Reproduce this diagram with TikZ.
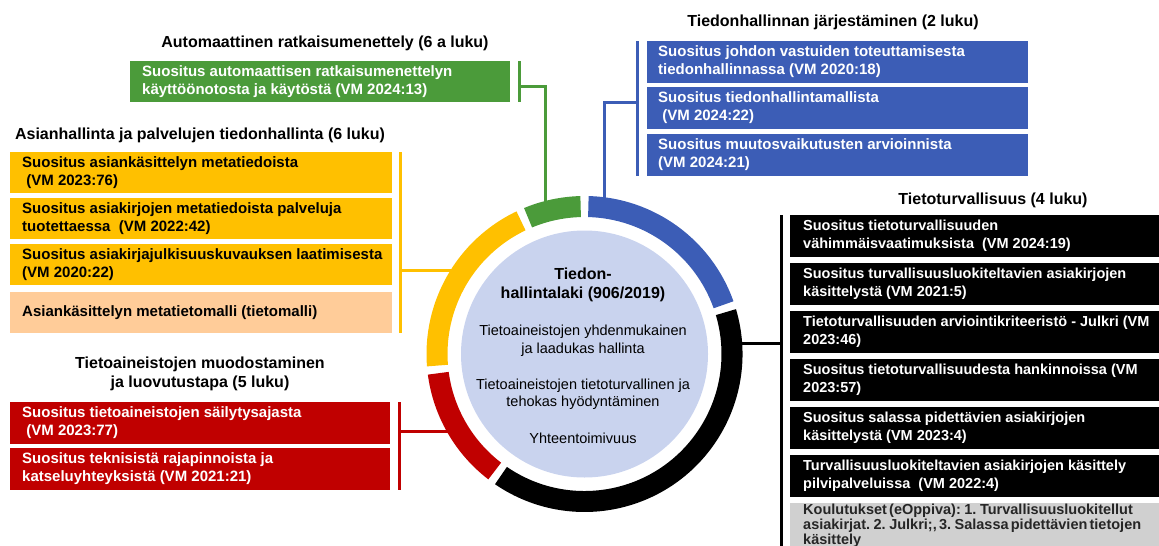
\documentclass[tikz,border=0pt]{standalone}
\usepackage{fontspec}
\setmainfont{Liberation Sans}
\definecolor{cgreen}{HTML}{4B9B3A}
\definecolor{cblue}{HTML}{3C5DB6}
\definecolor{cyellow}{HTML}{FFC000}
\definecolor{cpeach}{HTML}{FFCC99}
\definecolor{cred}{HTML}{C00000}
\definecolor{cgrey}{HTML}{D0D0D0}
\definecolor{clight}{HTML}{C9D3EE}
\newcommand{\bt}[2]{\makebox[#1][l]{\begin{tabular}{@{}l@{}}#2\end{tabular}}}
\newcommand{\tightsp}{\spaceskip 2.2pt plus 1pt\relax}
\begin{document}
\begin{tikzpicture}[x=1pt,y=-1pt,
  rbox/.style={anchor=north west, inner xsep=11pt, inner ysep=0pt, minimum height=42pt,
    font=\fontsize{15}{18}\selectfont\bfseries, align=left},
  wbox/.style={rbox, text=white},
  kbox/.style={wbox, fill=black, minimum width=372pt, inner xsep=13pt,
    font=\fontsize{14.5}{18}\selectfont\bfseries},
  ttl/.style={font=\fontsize{16}{19}\selectfont\bfseries, align=center, inner sep=0pt},
  body/.style={font=\fontsize{14.5}{17.5}\selectfont, align=center, inner sep=0pt},
  conn/.style={line width=3pt}
]
\useasboundingbox (0,0) rectangle (1159,546);
\clip (0,0) rectangle (1159,546);

% ---------- centre ----------
\node[circle, fill=clight, minimum size=247pt, inner sep=0pt] (core) at (584.5,354) {};
\begin{scope}[shift={(584.5,354)}]
  \foreach \a/\b/\c in {91.5/112.5/cgreen, 115.5/184.5/cyellow, 187.5/232.5/cred, 235.5/376.5/black, 19.5/88.5/cblue}
    \fill[\c] (\a:137pt) arc[start angle=\a, end angle=\b, radius=137pt] -- (\b:158pt) arc[start angle=\b, end angle=\a, radius=158pt] -- cycle;
\end{scope}
\node[ttl] (law) at (583,285) {Tiedon-\\hallintalaki (906/2019)};
\node[body] (p1) at (583,340.5) {Tietoaineistojen yhdenmukainen\\ja laadukas hallinta};
\node[body] (p2) at (583,394) {Tietoaineistojen tietoturvallinen ja\\tehokas hyödyntäminen};
\node[body] (p3) at (583,438) {Yhteentoimivuus};

% ---------- green ----------
\node[ttl] (gt) at (325,43) {Automaattinen ratkaisumenettely (6 a luku)};
\node[wbox, fill=cgreen, minimum width=380pt, minimum height=41pt] (g1) at (130,61)
  {\bt{356pt}{Suositus automaattisen ratkaisumenettelyn\\käyttöönotosta ja käytöstä (VM 2024:13)}};
\coordinate (gA) at (519,61); \coordinate (gB) at (519,102);
\coordinate (gJ) at (519,86); \coordinate (gR) at (545,206);
\draw[conn,cgreen] (gA) -- (gB);
\draw[conn,cgreen] (gJ) -| (gR);

% ---------- blue ----------
\node[ttl] (bt) at (833,22) {Tiedonhallinnan järjestäminen (2 luku)};
\node[wbox, fill=cblue, minimum width=381pt, inner xsep=10pt] (b1) at (647,41)
  {\bt{359pt}{Suositus johdon vastuiden toteuttamisesta\\tiedonhallinnassa (VM 2020:18)}};
\node[wbox, fill=cblue, minimum width=381pt, inner xsep=10pt] (b2) at (647,87)
  {\bt{359pt}{Suositus tiedonhallintamallista\\\ (VM 2024:22)}};
\node[wbox, fill=cblue, minimum width=381pt, inner xsep=10pt] (b3) at (647,134)
  {\bt{359pt}{Suositus muutosvaikutusten arvioinnista\\(VM 2024:21)}};
\coordinate (bA) at (637,41); \coordinate (bB) at (637,176);
\coordinate (bJ) at (637,102); \coordinate (bR) at (604,202);
\draw[conn,cblue] (bA) -- (bB);
\draw[conn,cblue] (bJ) -| (bR);

% ---------- yellow ----------
\node[ttl] (yt) at (200,135) {Asianhallinta ja palvelujen tiedonhallinta (6 luku)};
\node[rbox, fill=cyellow, minimum width=382pt, minimum height=41pt] (y1) at (10,152)
  {\bt{358pt}{Suositus asiankäsittelyn metatiedoista\\\ (VM 2023:76)}};
\node[rbox, fill=cyellow, minimum width=382pt, minimum height=41pt] (y2) at (10,198)
  {\bt{358pt}{Suositus asiakirjojen metatiedoista palveluja\\tuotettaessa\ \ (VM 2022:42)}};
\node[rbox, fill=cyellow, minimum width=382pt, minimum height=41pt] (y3) at (10,244)
  {\bt{358pt}{Suositus asiakirjajulkisuuskuvauksen laatimisesta\\(VM 2020:22)}};
\node[rbox, fill=cpeach, minimum width=382pt, minimum height=41pt] (y4) at (10,292)
  {\bt{358pt}{Asiankäsittelyn metatietomalli (tietomalli)}};
\coordinate (yA) at (400,152); \coordinate (yB) at (400,333);
\coordinate (yJ) at (400,270); \coordinate (yR) at (456,270);
\draw[conn,cyellow] (yA) -- (yB);
\draw[conn,cyellow] (yJ) -- (yR);

% ---------- red ----------
\node[ttl] (rt) at (200,374) {Tietoaineistojen muodostaminen\\ja luovutustapa (5 luku)};
\node[wbox, fill=cred, minimum width=380pt] (r1) at (10,402)
  {\bt{356pt}{Suositus tietoaineistojen säilytysajasta\\\ (VM 2023:77)}};
\node[wbox, fill=cred, minimum width=380pt] (r2) at (10,448)
  {\bt{356pt}{Suositus teknisistä rajapinnoista ja\\katseluyhteyksistä (VM 2021:21)}};
\coordinate (rA) at (399,402); \coordinate (rB) at (399,490);
\coordinate (rJ) at (399,431); \coordinate (rR) at (452,431);
\draw[conn,cred] (rA) -- (rB);
\draw[conn,cred] (rJ) -- (rR);

% ---------- black ----------
\node[ttl] (kt) at (993,200) {Tietoturvallisuus (4 luku)};
\node[kbox] (k1) at (790,215)
  {\bt{346pt}{Suositus tietoturvallisuuden\\vähimmäisvaatimuksista\ \ (VM 2024:19)}};
\node[kbox] (k2) at (790,263)
  {\bt{346pt}{Suositus turvallisuusluokiteltavien asiakirjojen\\käsittelystä (VM 2021:5)}};
\node[kbox] (k3) at (790,311)
  {\bt{346pt}{Tietoturvallisuuden arviointikriteeristö - Julkri (VM\\2023:46)}};
\node[kbox] (k4) at (790,359)
  {\bt{346pt}{Suositus tietoturvallisuudesta hankinnoissa (VM\\2023:57)}};
\node[kbox] (k5) at (790,407)
  {\bt{346pt}{Suositus salassa pidettävien asiakirjojen\\käsittelystä (VM 2023:4)}};
\node[kbox] (k6) at (790,455)
  {\bt{346pt}{Turvallisuusluokiteltavien asiakirjojen käsittely\\pilvipalveluissa\ \ (VM 2022:4)}};
\node[rbox, fill=cgrey, minimum width=372pt, inner xsep=13pt, inner ysep=1pt,
  font=\fontsize{14.5}{14.5}\selectfont\bfseries, text=black!85] (k7) at (790,503)
  {\bt{346pt}{\tightsp Koulutukset (eOppiva): 1. Turvallisuusluokitellut\\\tightsp asiakirjat. 2. Julkri;, 3. Salassa pidettävien tietojen\\käsittely}};
\coordinate (kA) at (781,215); \coordinate (kB) at (781,550);
\coordinate (kJ) at (781,343); \coordinate (kR) at (736,343);
\draw[conn,black] (kA) -- (kB);
\draw[conn,black] (kJ) -- (kR);
\end{tikzpicture}
\end{document}
